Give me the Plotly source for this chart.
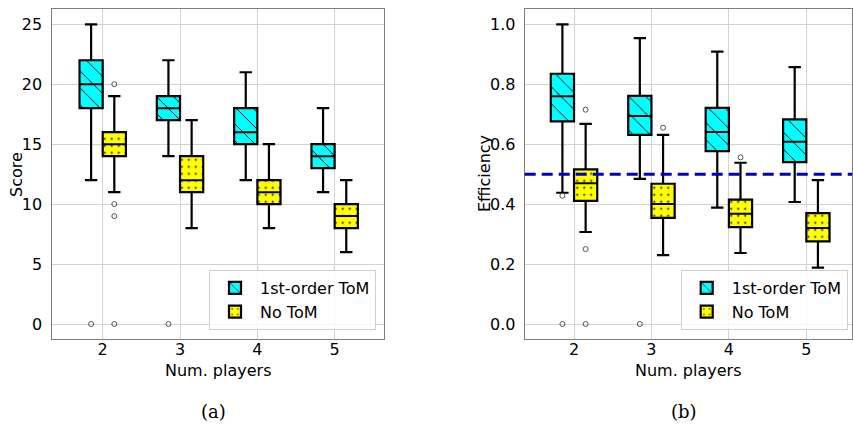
import plotly.graph_objects as go

# ---------------- data ----------------
players = [2, 3, 4, 5]
series_names = ["1st-order ToM", "No ToM"]

# Score panel
score_tom_lo = [12, 14, 12, 11]
score_tom_q1 = [18, 17, 15, 13]
score_tom_med = [20, 18, 16, 14]
score_tom_q3 = [22, 19, 18, 15]
score_tom_hi = [25, 22, 21, 18]
score_tom_out = [[0], [0], [], []]

score_no_lo = [11, 8, 8, 6]
score_no_q1 = [14, 11, 10, 8]
score_no_med = [15, 12, 11, 9]
score_no_q3 = [16, 14, 12, 10]
score_no_hi = [19, 17, 15, 12]
score_no_out = [[20, 10, 9, 0], [], [], []]

# Efficiency panel
eff_tom_lo = [0.438, 0.484, 0.388, 0.407]
eff_tom_q1 = [0.676, 0.631, 0.577, 0.540]
eff_tom_med = [0.760, 0.694, 0.641, 0.608]
eff_tom_q3 = [0.835, 0.761, 0.721, 0.683]
eff_tom_hi = [1.0, 0.954, 0.909, 0.857]
eff_tom_out = [[0.428, 0.0], [0.0], [], []]

eff_no_lo = [0.307, 0.230, 0.237, 0.188]
eff_no_q1 = [0.411, 0.354, 0.323, 0.276]
eff_no_med = [0.470, 0.400, 0.368, 0.320]
eff_no_q3 = [0.516, 0.468, 0.415, 0.370]
eff_no_hi = [0.668, 0.631, 0.538, 0.480]
eff_no_out = [[0.715, 0.25, 0.0], [0.655], [0.556], []]

efficiency_threshold = 0.5
y_ticks_score = [0, 5, 10, 15, 20, 25]
y_ticks_eff = [0.0, 0.2, 0.4, 0.6, 0.8, 1.0]
x_title = "Num. players"
y_titles = ["Score", "Efficiency"]
captions = ["(a)", "(b)"]

# ---------------- style ----------------
W, H = 853, 428
OFF = 0.15
BW = 0.30
CAP = 0.08
FONT = "DejaVu Sans"
colors = ["#00FFFF", "#FFFF00"]
patterns = [dict(shape="\\", size=12, solidity=0.08, fgcolor="black", fgopacity=1),
            dict(shape=".", size=7, solidity=0.06, fgcolor="black", fgopacity=1)]

fig = go.Figure()


def add_group(xa, ya, legend, idx, lo, q1, med, q3, hi, outs):
    sign = -1 if idx == 0 else 1
    xs = [p + sign * OFF for p in players]
    fig.add_trace(go.Bar(
        x=xs, y=[b - a for a, b in zip(q1, q3)], base=q1, width=BW,
        marker=dict(color=colors[idx], line=dict(color="black", width=2.2),
                    pattern=patterns[idx]),
        name=series_names[idx], xaxis=xa, yaxis=ya, legend=legend,
        showlegend=True, hoverinfo="skip"))
    wx, wy = [], []
    for x, a, b, c, d in zip(xs, lo, q1, q3, hi):
        wx += [x, x, None, x, x, None, x - CAP, x + CAP, None, x - CAP, x + CAP, None]
        wy += [a, b, None, c, d, None, a, a, None, d, d, None]
    fig.add_trace(go.Scatter(x=wx, y=wy, mode="lines", line=dict(color="black", width=2.2),
                             xaxis=xa, yaxis=ya, showlegend=False, hoverinfo="skip"))
    mx, my = [], []
    for x, m in zip(xs, med):
        mx += [x - BW / 2, x + BW / 2, None]
        my += [m, m, None]
    fig.add_trace(go.Scatter(x=mx, y=my, mode="lines", line=dict(color="black", width=2),
                             xaxis=xa, yaxis=ya, showlegend=False, hoverinfo="skip"))
    ox, oy = [], []
    for x, o in zip(xs, outs):
        ox += [x] * len(o)
        oy += o
    fig.add_trace(go.Scatter(x=ox, y=oy, mode="markers",
                             marker=dict(symbol="circle-open", size=5, color="#555555",
                                         line=dict(width=1)),
                             xaxis=xa, yaxis=ya, showlegend=False, hoverinfo="skip"))


add_group("x", "y", "legend", 0, score_tom_lo, score_tom_q1, score_tom_med, score_tom_q3, score_tom_hi, score_tom_out)
add_group("x", "y", "legend", 1, score_no_lo, score_no_q1, score_no_med, score_no_q3, score_no_hi, score_no_out)
add_group("x2", "y2", "legend2", 0, eff_tom_lo, eff_tom_q1, eff_tom_med, eff_tom_q3, eff_tom_hi, eff_tom_out)
add_group("x2", "y2", "legend2", 1, eff_no_lo, eff_no_q1, eff_no_med, eff_no_q3, eff_no_hi, eff_no_out)

fig.add_shape(type="line", xref="x2 domain", yref="y2", x0=0, x1=1,
              y0=efficiency_threshold, y1=efficiency_threshold,
              line=dict(color="#0000CC", width=3, dash="11px,6px"), layer="above")

axis_common = dict(showgrid=True, gridcolor="#D3D3D3", gridwidth=1, showline=True,
                   linecolor="#808080", linewidth=1, mirror=True, zeroline=False,
                   tickfont=dict(family=FONT, size=16, color="black"), ticks="", ticklen=0)

ydom = [1 - 339 / H, 1 - 9.3 / H]
fig.update_layout(
    width=W, height=H, margin=dict(l=0, r=0, t=0, b=0),
    paper_bgcolor="white", plot_bgcolor="white", barmode="overlay",
    font=dict(family=FONT, size=16, color="black"),
    xaxis=dict(domain=[52.3 / W, 384.3 / W], range=[1.348, 5.642], tickvals=players,
               ticklabelstandoff=-4, **axis_common),
    yaxis=dict(domain=ydom, range=[-1.25, 26.25], tickvals=y_ticks_score,
               ticklabelstandoff=6, **axis_common),
    xaxis2=dict(domain=[524.7 / W, 852 / W], range=[1.363, 5.59], tickvals=players,
                anchor="y2", ticklabelstandoff=-4, **axis_common),
    yaxis2=dict(domain=ydom, range=[-0.05, 1.05], tickvals=y_ticks_eff, tickformat=".1f",
                anchor="x2", ticklabelstandoff=5, **axis_common),
    legend=dict(x=376 / W, y=1 - 330 / H, xanchor="right", yanchor="bottom",
                bgcolor="rgba(255,255,255,0.8)", bordercolor="#D0D0D0", borderwidth=1,
                font=dict(family=FONT, size=16), itemwidth=40),
    legend2=dict(x=847.7 / W, y=1 - 330 / H, xanchor="right", yanchor="bottom",
                 bgcolor="rgba(255,255,255,0.8)", bordercolor="#D0D0D0", borderwidth=1,
                 font=dict(family=FONT, size=16), itemwidth=40),
)

# axis titles
for cx in (218 / W, 688 / W):
    fig.add_annotation(text=x_title, x=cx, y=1 - 370 / H, xref="paper", yref="paper",
                       xanchor="center", yanchor="middle", showarrow=False, borderpad=0,
                       font=dict(family=FONT, size=16, color="black"))
for txt, cx in zip(y_titles, (16 / W, 484 / W)):
    fig.add_annotation(text=txt, x=cx, y=1 - 174 / H, xref="paper", yref="paper",
                       xanchor="center", yanchor="middle", textangle=-90, showarrow=False,
                       borderpad=0, font=dict(family=FONT, size=16, color="black"))
# captions
for txt, cx in zip(captions, (213 / W, 684 / W)):
    fig.add_annotation(text=txt, x=cx, y=1 - 411 / H, xref="paper", yref="paper",
                       xanchor="center", yanchor="middle", showarrow=False,
                       font=dict(family="DejaVu Serif", size=18, color="black"))

fig.write_html("out.html", config={"displayModeBar": False},
               post_script="document.body.style.margin='0px';")
